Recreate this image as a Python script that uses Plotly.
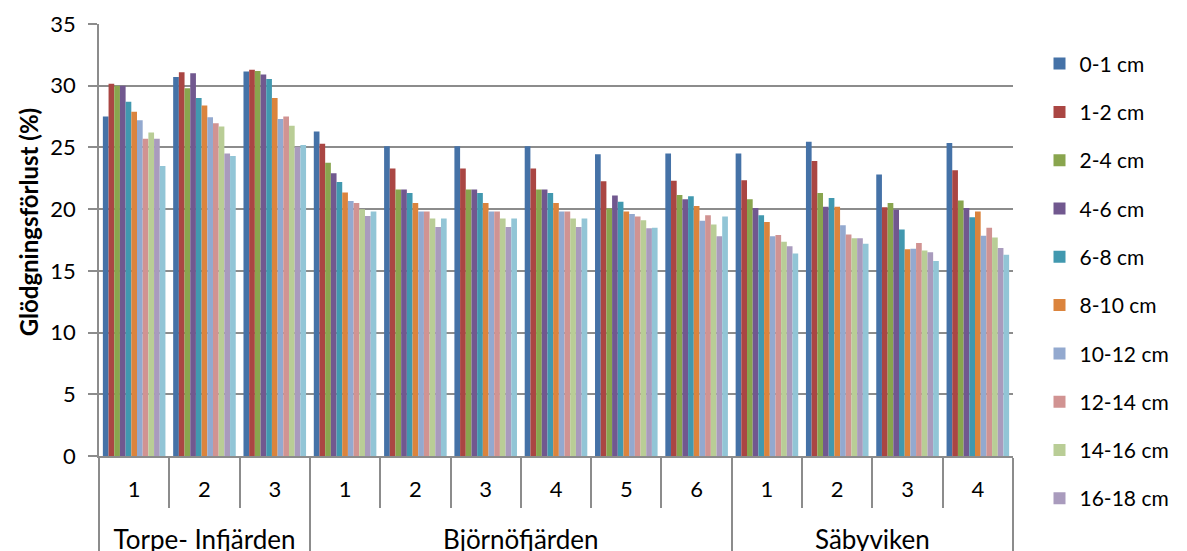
import plotly.graph_objects as go

# Sampling sites (outer group) and station numbers (inner label)
areas = ["Torpe- Infjärden"] * 3 + ["Björnöfjärden"] * 6 + ["Säbyviken"] * 4
stations = ["1", "2", "3", "1", "2", "3", "4", "5", "6", "1", "2", "3", "4"]

# Loss on ignition (%) per sediment depth layer
d0_1 = [27.5, 30.7, 31.15, 26.3, 25.1, 25.1, 25.1, 24.45, 24.5, 24.5, 25.45, 22.8, 25.35]
d1_2 = [30.15, 31.1, 31.3, 25.3, 23.3, 23.3, 23.3, 22.25, 22.3, 22.35, 23.9, 20.15, 23.15]
d2_4 = [30.0, 29.8, 31.2, 23.75, 21.6, 21.6, 21.6, 20.05, 21.15, 20.8, 21.3, 20.5, 20.7]
d4_6 = [30.0, 31.0, 30.9, 22.9, 21.6, 21.6, 21.6, 21.1, 20.8, 20.1, 20.2, 19.95, 20.1]
d6_8 = [28.7, 29.0, 30.55, 22.2, 21.3, 21.3, 21.3, 20.6, 21.05, 19.5, 20.9, 18.35, 19.35]
d8_10 = [27.9, 28.4, 29.0, 21.35, 20.5, 20.5, 20.5, 19.8, 20.25, 18.95, 20.2, 16.75, 19.8]
d10_12 = [27.2, 27.45, 27.3, 20.65, 19.8, 19.8, 19.8, 19.6, 19.05, 17.8, 18.7, 16.8, 17.85]
d12_14 = [25.7, 26.95, 27.5, 20.5, 19.8, 19.8, 19.8, 19.4, 19.5, 17.9, 17.95, 17.25, 18.5]
d14_16 = [26.2, 26.7, 26.75, 20.0, 19.25, 19.25, 19.25, 19.1, 18.75, 17.35, 17.65, 16.65, 17.7]
d16_18 = [25.7, 24.5, 25.05, 19.45, 18.55, 18.55, 18.55, 18.45, 17.8, 17.0, 17.65, 16.5, 16.85]
d18_20 = [23.5, 24.3, 25.2, 19.8, 19.25, 19.25, 19.25, 18.5, 19.4, 16.4, 17.2, 15.8, 16.3]

layers = ["0-1 cm", "1-2 cm", "2-4 cm", "4-6 cm", "6-8 cm", "8-10 cm",
          "10-12 cm", "12-14 cm", "14-16 cm", "16-18 cm", "18-20 cm"]
series = [d0_1, d1_2, d2_4, d4_6, d6_8, d8_10, d10_12, d12_14, d14_16, d16_18, d18_20]
colors = ["#4572A7", "#AA4643", "#89A54E", "#71588F", "#4198AF", "#DB843D",
          "#93A9CF", "#D19392", "#B9CD96", "#A99BBD", "#92C5D6"]

FONT = "Lato, 'Open Sans', sans-serif"
GRID = "#8C8C8C"

# outer labels sit one line lower, below the station row
area_labels = ["<br><span style='font-size:26px'>" + a + "</span>" for a in areas]
station_labels = ["<span style='font-size:22px'>" + s + "</span>" for s in stations]

fig = go.Figure()
for i, (name, vals, col) in enumerate(zip(layers, series, colors)):
    fig.add_trace(go.Bar(
        x=[area_labels, station_labels], y=vals, name=name,
        marker=dict(color=col, line=dict(width=0)),
        legendgroup=name,
        showlegend=(i < 10),
    ))

fig.update_layout(
    width=1187, height=551,
    margin=dict(l=99, r=163, t=24, b=95),
    plot_bgcolor="white", paper_bgcolor="white",
    barmode="group", bargap=0.11, bargroupgap=0,
    font=dict(family=FONT, size=21, color="#000000"),
    legend=dict(x=1.029, y=0.955, xanchor="left", yanchor="top",
                font=dict(family=FONT, size=21),
                tracegroupgap=18, itemwidth=30, maxheight=551),
    xaxis=dict(
        type="multicategory",
        showline=True, linecolor=GRID, linewidth=1.5,
        ticks="outside", ticklen=50, tickcolor=GRID, tickwidth=1.5,
        ticklabelstandoff=9,
        showdividers=True, dividercolor=GRID, dividerwidth=1.5,
        tickfont=dict(family=FONT, size=25),
        automargin=False,
    ),
    yaxis=dict(
        range=[0, 35], dtick=5,
        showgrid=True, gridcolor=GRID, gridwidth=1.5,
        showline=True, linecolor=GRID, linewidth=1.5,
        ticks="outside", ticklen=9, tickcolor=GRID, tickwidth=1.5,
        tickfont=dict(family=FONT, size=22),
        ticklabelstandoff=8,
        zeroline=False, automargin=False,
    ),
    annotations=[dict(
        text="<b>Glödgningsförlust (%)</b>", textangle=-90,
        xref="paper", yref="paper", x=-0.077, y=0.54,
        xanchor="center", yanchor="middle", showarrow=False,
        font=dict(family=FONT, size=24),
    )],
)

fig.write_html("out.html")
